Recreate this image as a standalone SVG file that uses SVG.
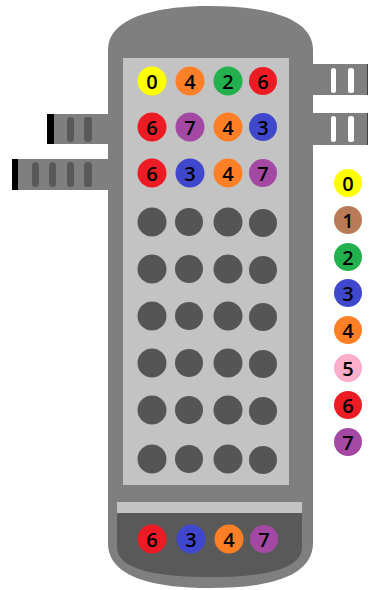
<svg xmlns="http://www.w3.org/2000/svg" width="369" height="590" viewBox="0 0 369 590">
<style>
.body{fill:#7f7f7f}
.panel{fill:#c3c3c3}
.hole{fill:#555555}
.slot{fill:#595959}
.wslot{fill:#ffffff}
.cap{fill:#000000}
.t{font-family:"Open Sans","Liberation Sans",Arial,sans-serif;font-size:20px;font-weight:600;fill:#000;text-anchor:middle;dominant-baseline:central}
.c0{fill:#ffff00}.c1{fill:#b97a57}.c2{fill:#22b14c}.c3{fill:#3f48cc}
.c4{fill:#ff7f27}.c5{fill:#ffaec9}.c6{fill:#ed1c24}.c7{fill:#a349a4}
</style>
<rect width="369" height="590" fill="#ffffff"/>
<g id="nozzle-left-1">
<rect class="body" x="47" y="114" width="63" height="30"/>
<rect class="cap" x="47" y="114" width="7" height="30"/>
<rect class="slot" x="67" y="117" width="7" height="25" rx="3.5"/>
<rect class="slot" x="84" y="117" width="8" height="25" rx="3.5"/>
</g>
<g id="nozzle-left-2">
<rect class="body" x="12" y="159" width="98" height="31"/>
<rect class="cap" x="12" y="159" width="6" height="31"/>
<rect class="slot" x="32" y="162" width="7" height="25" rx="3.5"/>
<rect class="slot" x="49" y="162" width="7" height="25" rx="3.5"/>
<rect class="slot" x="67" y="162" width="7" height="25" rx="3.5"/>
<rect class="slot" x="84" y="162" width="8" height="25" rx="3.5"/>
</g>
<g id="nozzle-right-1">
<rect class="body" x="311" y="64" width="57" height="31"/>
<rect x="367" y="64" width="1" height="31" fill="#404040"/>
<rect class="wslot" x="331" y="68" width="5" height="25" rx="2.5"/>
<rect class="wslot" x="348" y="68" width="6" height="25" rx="2.5"/>
</g>
<g id="nozzle-right-2">
<rect class="body" x="311" y="113" width="57" height="32"/>
<rect x="367" y="113" width="1" height="32" fill="#404040"/>
<rect class="wslot" x="331" y="116" width="5" height="26" rx="2.5"/>
<rect class="wslot" x="348" y="116" width="6" height="26" rx="2.5"/>
</g>
<g id="vessel">
<path class="body" d="M108,50 C108,16 160,6 210,6 C262,6 313,16 313,50 V543 C313,578 265,588 210,588 C155,588 108,578 108,543 Z"/>
<rect class="panel" x="123" y="58" width="166" height="427"/>
<rect class="panel" x="117" y="502" width="185" height="11"/>
<path fill="#595959" d="M117,513 H302 V547 C302,570 262,577 210,577 C158,577 117,570 117,547 Z"/>
</g>
<g id="trays">
<circle class="c0" cx="152" cy="81" r="14.5"/><text class="t" x="152" y="81">0</text>
<circle class="c4" cx="190" cy="81" r="14.5"/><text class="t" x="190" y="81">4</text>
<circle class="c2" cx="228" cy="81" r="14.5"/><text class="t" x="228" y="81">2</text>
<circle class="c6" cx="263" cy="81" r="14"/><text class="t" x="263" y="81">6</text>
<circle class="c6" cx="152" cy="127" r="14.5"/><text class="t" x="152" y="127">6</text>
<circle class="c7" cx="190" cy="127" r="14.5"/><text class="t" x="190" y="127">7</text>
<circle class="c4" cx="228" cy="127" r="14.5"/><text class="t" x="228" y="127">4</text>
<circle class="c3" cx="263" cy="127" r="14"/><text class="t" x="263" y="127">3</text>
<circle class="c6" cx="152" cy="173" r="14.5"/><text class="t" x="152" y="173">6</text>
<circle class="c3" cx="190" cy="173" r="14.5"/><text class="t" x="190" y="173">3</text>
<circle class="c4" cx="228" cy="173" r="14.5"/><text class="t" x="228" y="173">4</text>
<circle class="c7" cx="263" cy="173" r="14"/><text class="t" x="263" y="173">7</text>
</g>
<g id="empty-trays">
<circle class="hole" cx="152" cy="222" r="14.5"/><circle class="hole" cx="189" cy="222" r="14"/><circle class="hole" cx="228" cy="222" r="14.5"/><circle class="hole" cx="263" cy="223" r="14"/>
<circle class="hole" cx="152" cy="269" r="14.5"/><circle class="hole" cx="189" cy="269" r="14"/><circle class="hole" cx="228" cy="269" r="14.5"/><circle class="hole" cx="263" cy="270" r="14"/>
<circle class="hole" cx="152" cy="316" r="14.5"/><circle class="hole" cx="189" cy="316" r="14"/><circle class="hole" cx="228" cy="316" r="14.5"/><circle class="hole" cx="263" cy="317" r="14"/>
<circle class="hole" cx="152" cy="363" r="14.5"/><circle class="hole" cx="189" cy="363" r="14"/><circle class="hole" cx="228" cy="363" r="14.5"/><circle class="hole" cx="263" cy="364" r="14"/>
<circle class="hole" cx="152" cy="410" r="14.5"/><circle class="hole" cx="189" cy="410" r="14"/><circle class="hole" cx="228" cy="410" r="14.5"/><circle class="hole" cx="263" cy="411" r="14"/>
<circle class="hole" cx="152" cy="459" r="14.5"/><circle class="hole" cx="189" cy="459" r="14"/><circle class="hole" cx="228" cy="459" r="14.5"/><circle class="hole" cx="263" cy="460" r="14"/>
</g>
<g id="bottom">
<circle class="c6" cx="152" cy="539" r="14.5"/><text class="t" x="152" y="539">6</text>
<circle class="c3" cx="191" cy="539" r="14.5"/><text class="t" x="191" y="539">3</text>
<circle class="c4" cx="229" cy="539" r="14.5"/><text class="t" x="229" y="539">4</text>
<circle class="c7" cx="264" cy="539" r="14"/><text class="t" x="264" y="539">7</text>
</g>
<g id="legend">
<circle class="c0" cx="348" cy="183" r="14"/><text class="t" x="348" y="183">0</text>
<circle class="c1" cx="348" cy="220" r="14"/><text class="t" x="348" y="220">1</text>
<circle class="c2" cx="348" cy="257" r="14"/><text class="t" x="348" y="257">2</text>
<circle class="c3" cx="348" cy="293" r="14"/><text class="t" x="348" y="293">3</text>
<circle class="c4" cx="348" cy="330" r="14"/><text class="t" x="348" y="330">4</text>
<circle class="c5" cx="348" cy="368" r="14"/><text class="t" x="348" y="368">5</text>
<circle class="c6" cx="348" cy="405" r="14"/><text class="t" x="348" y="405">6</text>
<circle class="c7" cx="348" cy="442" r="14"/><text class="t" x="348" y="442">7</text>
</g>
</svg>
